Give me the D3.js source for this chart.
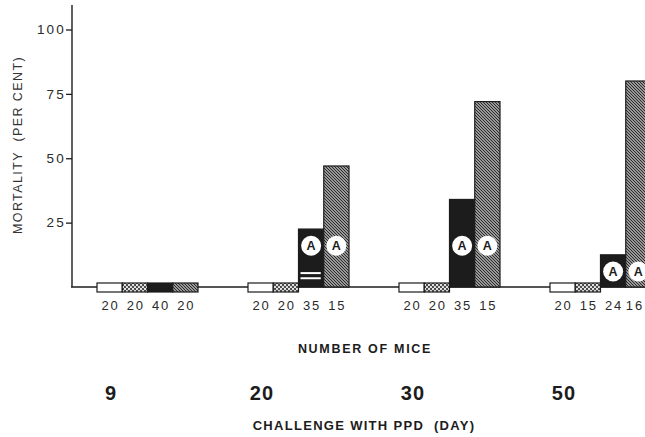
<!DOCTYPE html>
<html>
<head>
<meta charset="utf-8">
<script src="https://cdn.jsdelivr.net/npm/d3@7"></script>
<style>
  body { margin: 0; background: #fff; }
  svg { display: block; font-family: "Liberation Sans", Arial, sans-serif; }
</style>
</head>
<body>
<svg id="chart" width="645" height="437"></svg>
<script>
// challenge days and the four groups of bars in each day
const days = ["9", "20", "30", "50"];
const series = ["plain", "dotted", "solid", "hatched"];

// mortality (per cent)
const plainVals = [0, 0, 0, 0];
const dottedVals = [0, 0, 0, 0];
const solidVals = [0, 22.5, 34, 12.5];
const hatchedVals = [0, 47, 72, 80];

// number of mice under each bar
const plainMice = [20, 20, 20, 20];
const dottedMice = [20, 20, 20, 15];
const solidMice = [40, 35, 35, 24];
const hatchedMice = [20, 15, 15, 16];

// level (per cent) where the "A" circles sit, null = none
const markLevels = [null, 16, 16, 6];
// white stripes in the day-20 solid bar
const stripeLevels = [5.4, 3.4];

const yTicks = [25, 50, 75, 100];

const width = 645, height = 437;
const svg = d3.select("#chart");
const ink = "#1c1c1c";

const vals = { plain: plainVals, dotted: dottedVals, solid: solidVals, hatched: hatchedVals };
const mice = { plain: plainMice, dotted: dottedMice, solid: solidMice, hatched: hatchedMice };

const bars = [];
days.forEach((d, i) => {
    series.forEach(s => bars.push({ day: d, idx: i, s: s, v: vals[s][i], n: mice[s][i] }));
});

// patterns
const defs = svg.append("defs");
const hatch = defs.append("pattern").attr("id", "hatch").attr("patternUnits", "userSpaceOnUse")
    .attr("width", 3).attr("height", 3);
hatch.append("rect").attr("width", 3).attr("height", 3).attr("fill", "#c4c4c4");
hatch.append("path").attr("d", "M0,0 L3,3 M-1,2 L1,4 M2,-1 L4,1")
    .attr("stroke", "#222").attr("stroke-width", 1.05);

const dots = defs.append("pattern").attr("id", "dots").attr("patternUnits", "userSpaceOnUse")
    .attr("width", 4).attr("height", 4);
dots.append("rect").attr("width", 4).attr("height", 4).attr("fill", "#4a4a4a");
dots.append("circle").attr("cx", 1).attr("cy", 1).attr("r", 1.1).attr("fill", "#f4f4f4");
dots.append("circle").attr("cx", 3).attr("cy", 3).attr("r", 1.1).attr("fill", "#f4f4f4");

const fills = { plain: "#fff", dotted: "url(#dots)", solid: ink, hatched: "url(#hatch)" };

// scales
const x0 = d3.scaleBand().domain(days).range([97, 651]).paddingInner(0.331).paddingOuter(0);
const x1 = d3.scaleBand().domain(series).range([0, x0.bandwidth()]);
const y = d3.scaleLinear().domain([0, 100]).range([287, 29.5]);

// axes
const yAxis = svg.append("g")
    .attr("transform", "translate(72,0)")
    .call(d3.axisLeft(y).tickValues(yTicks).tickSize(6).tickPadding(0));
yAxis.select(".domain").remove();
yAxis.selectAll("line").attr("stroke", ink).attr("stroke-width", 1.3);
yAxis.selectAll("text").attr("fill", "#2a2a2a").style("font-size", "13.5px").style("letter-spacing", "2.2px");

svg.append("line").attr("x1", 72).attr("x2", 72).attr("y1", y(109.5)).attr("y2", y(0))
    .attr("stroke", ink).attr("stroke-width", 1.4);
svg.append("line").attr("x1", 71).attr("x2", width).attr("y1", y(0)).attr("y2", y(0))
    .attr("stroke", ink).attr("stroke-width", 1.3);

// bars
svg.selectAll("rect.bar").data(bars).enter().append("rect").attr("class", "bar")
    .attr("x", d => x0(d.day) + x1(d.s))
    .attr("width", x1.bandwidth())
    .attr("y", d => d.v > 0 ? y(d.v) : y(0) - 4)
    .attr("height", d => d.v > 0 ? y(0) - y(d.v) : 9)
    .attr("fill", d => fills[d.s])
    .attr("stroke", ink).attr("stroke-width", 1.2);

// white stripes in day 20 solid bar
svg.selectAll("rect.stripe").data(stripeLevels).enter().append("rect").attr("class", "stripe")
    .attr("x", x0("20") + x1("solid") + 2)
    .attr("width", x1.bandwidth() - 5)
    .attr("y", d => y(d) - 1)
    .attr("height", 2)
    .attr("fill", "#fff");

// "A" circles
const marks = [];
markLevels.forEach((lv, i) => {
    if (lv === null) return;
    ["solid", "hatched"].forEach(s => marks.push({ day: days[i], s: s, lv: lv }));
});
const mg = svg.selectAll("g.mark").data(marks).enter().append("g").attr("class", "mark")
    .attr("transform", d => `translate(${x0(d.day) + x1(d.s) + x1.bandwidth() / 2},${y(d.lv)})`);
mg.append("circle").attr("r", 10).attr("fill", "#fff");
mg.append("text").attr("text-anchor", "middle").attr("dy", "0.36em")
    .style("font-size", "12.5px").style("font-weight", "bold").attr("fill", ink).text("A");

// counts under bars (kept inside the right edge)
svg.selectAll("text.count").data(bars).enter().append("text").attr("class", "count")
    .attr("x", d => Math.min(x0(d.day) + x1(d.s) + x1.bandwidth() / 2 + 1, width - 10))
    .attr("y", 310)
    .attr("text-anchor", "middle")
    .style("font-size", "13px").style("letter-spacing", "2px")
    .attr("fill", "#2a2a2a")
    .text(d => d.n);

svg.append("text").attr("x", 365).attr("y", 353).attr("text-anchor", "middle")
    .style("font-size", "12.5px").style("font-weight", "bold").style("letter-spacing", "1.7px")
    .attr("fill", ink).text("NUMBER OF MICE");

svg.selectAll("text.day").data(days).enter().append("text").attr("class", "day")
    .attr("x", d => x0(d) + 14).attr("y", 400).attr("text-anchor", "middle")
    .style("font-size", "20px").style("font-weight", "bold").style("letter-spacing", "1px")
    .attr("fill", ink)
    .text(d => d);

svg.append("text").attr("x", 364).attr("y", 430).attr("text-anchor", "middle")
    .style("font-size", "13px").style("font-weight", "bold").style("letter-spacing", "1.3px")
    .attr("fill", ink).attr("xml:space", "preserve").text("CHALLENGE WITH PPD  (DAY)");

svg.append("text").attr("transform", "translate(22,145) rotate(-90)").attr("text-anchor", "middle")
    .style("font-size", "12.5px").style("letter-spacing", "1.4px")
    .attr("fill", "#333").attr("xml:space", "preserve").text("MORTALITY  (PER CENT)");
</script>
</body>
</html>
